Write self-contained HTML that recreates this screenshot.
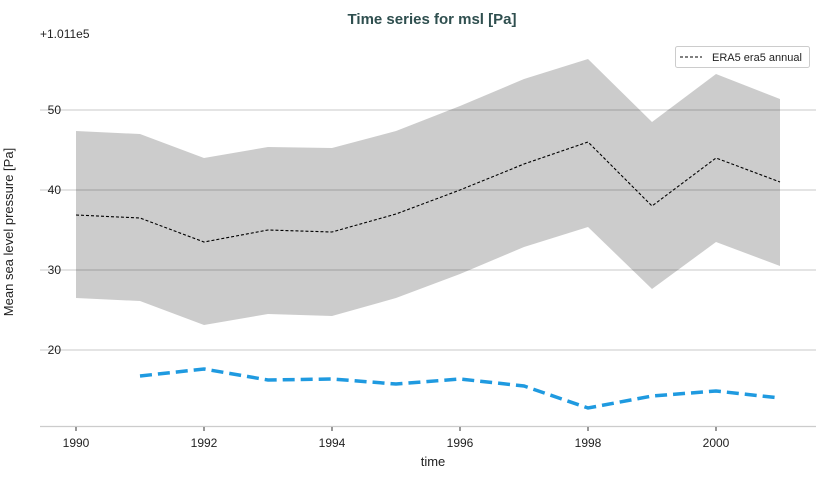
<!DOCTYPE html>
<html><head><style>body{margin:0;background:#fff}svg{display:block}text{font-family:"Liberation Sans","DejaVu Sans",sans-serif;fill:#222}</style></head>
<body>
<svg width="825" height="478" viewBox="0 0 825 478" xmlns="http://www.w3.org/2000/svg">
<rect width="825" height="478" fill="#fff"/>
<text x="432" y="24" text-anchor="middle" font-size="15" font-weight="bold" style="fill:#2f4f4f">Time series for msl [Pa]</text>
<text x="40" y="38" font-size="12">+1.011e5</text>
<g stroke="#c8c8c8" stroke-width="1">
<line x1="40" x2="816" y1="110" y2="110"/><line x1="40" x2="816" y1="190" y2="190"/>
<line x1="40" x2="816" y1="270" y2="270"/><line x1="40" x2="816" y1="350" y2="350"/>
</g>
<polygon fill="#000" fill-opacity="0.2" points="76,131 140,134 204,158 268,147 332,148 396,131 460,106 524,79 588,59 652,122 716,74 780,99 780,266 716,242 652,289 588,227 524,247 460,274 396,298 332,316 268,314 204,325 140,301 76,298"/>
<polyline fill="none" stroke="#000" stroke-width="1.1" stroke-dasharray="3,2" points="76,215 140,218 204,242 268,230 332,232 396,214 460,190 524,164 588,142 652,206 716,158 780,182"/>
<polyline fill="none" stroke="#1f9ae0" stroke-width="3.5" stroke-dasharray="12,6" points="140,376 204,369 268,380 332,379 396,384 460,379 524,386 588,408 652,396 716,391 780,398"/>
<line x1="40" x2="816" y1="426.5" y2="426.5" stroke="#ccc" stroke-width="1.2"/>
<g stroke="#333"><line x1="76" x2="76" y1="427" y2="431"/><line x1="204" x2="204" y1="427" y2="431"/><line x1="332" x2="332" y1="427" y2="431"/><line x1="460" x2="460" y1="427" y2="431"/><line x1="588" x2="588" y1="427" y2="431"/><line x1="716" x2="716" y1="427" y2="431"/></g>
<g font-size="12" text-anchor="middle"><text x="76" y="447">1990</text><text x="204" y="447">1992</text><text x="332" y="447">1994</text><text x="460" y="447">1996</text><text x="588" y="447">1998</text><text x="716" y="447">2000</text></g>
<g font-size="12" text-anchor="end"><text x="61" y="114">50</text><text x="61" y="194">40</text><text x="61" y="274">30</text><text x="61" y="354">20</text></g>
<text x="433" y="466" font-size="13" text-anchor="middle">time</text>
<text transform="translate(13,232) rotate(-90)" font-size="13" text-anchor="middle">Mean sea level pressure [Pa]</text>
<rect x="675.5" y="46.5" width="134" height="21" rx="2" fill="#fff" stroke="#ccc"/>
<line x1="680" x2="702" y1="57" y2="57" stroke="#000" stroke-dasharray="3,2"/>
<text x="712" y="61" font-size="11">ERA5 era5 annual</text>
</svg>
</body></html>
